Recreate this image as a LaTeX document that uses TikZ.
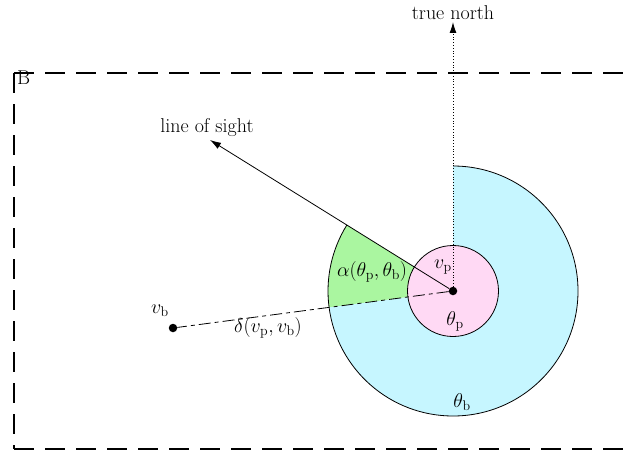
\RequirePackage{fix-cm}
\documentclass[tikz,border=0pt]{standalone}
\usetikzlibrary{arrows.meta}
\definecolor{cyanfill}{RGB}{198,246,255}
\definecolor{pinkfill}{RGB}{255,217,244}
\definecolor{greenfill}{RGB}{170,246,160}
\begin{document}
\begin{tikzpicture}[x=1pt,y=1pt,
  lbl/.style={font=\fontsize{20}{23}\selectfont, inner sep=1pt},
  arr/.style={-{Latex[length=11pt,width=7pt]}, line width=0.8pt},
  dot/.style={circle, fill=black, inner sep=0pt, minimum size=8.5pt}]
\clip (0,0) rectangle (631,451);
% bounding box
\draw[line width=1.1pt, dash pattern=on 20pt off 11pt] (14,378) -- (645,378);
\draw[line width=1.1pt, dash pattern=on 20pt off 11pt] (14,2) -- (645,2);
\draw[line width=1.1pt, dash pattern=on 20pt off 11pt] (14,378) -- (14,2);
\node[lbl, anchor=north west] (B) at (16,381) {B};
% centre
\coordinate (vp) at (453,160);
% cyan sector
\fill[cyanfill] (vp) -- ++(90:125) arc[start angle=90, end angle=-172.5, radius=125] -- cycle;
\draw[line width=0.8pt] (vp) ++(90:125) arc[start angle=90, end angle=-172.5, radius=125];
% green sector
\fill[greenfill] (vp) -- ++(148.1:125) arc[start angle=148.1, end angle=187.5, radius=125] -- cycle;
\draw[line width=0.8pt] (vp) ++(148.1:125) arc[start angle=148.1, end angle=187.5, radius=125];
% pink circle
\draw[line width=0.8pt, fill=pinkfill] (vp) circle[radius=45.5];
% nodes
\node[dot] (p) at (vp) {};
\node[dot] (b) at (173,123) {};
\coordinate (north) at (453,429);
\coordinate (sight) at (210,311);
\node[lbl] (tn) at (453,438) {true north};
\node[lbl] (los) at (207,323) {line of sight};
% connectors
\draw[arr, dotted, line width=1pt] (p) -- (north);
\draw[arr] (p) -- (sight);
\draw[line width=0.8pt, dash pattern=on 12pt off 4pt on 4pt off 4pt] (p) -- (b);
% labels
\node[lbl] (lvb) at (160,140) {$v_{\mathrm{b}}$};
\node[lbl] (ldelta) at (268,123) {$\delta(v_{\mathrm{p}},v_{\mathrm{b}})$};
\node[lbl] (lalpha) at (372,179) {$\alpha(\theta_{\mathrm{p}},\theta_{\mathrm{b}})$};
\node[lbl] (lvp) at (443,184) {$v_{\mathrm{p}}$};
\node[lbl] (ltp) at (455,130) {$\theta_{\mathrm{p}}$};
\node[lbl] (ltb) at (462,49) {$\theta_{\mathrm{b}}$};
\end{tikzpicture}
\end{document}
